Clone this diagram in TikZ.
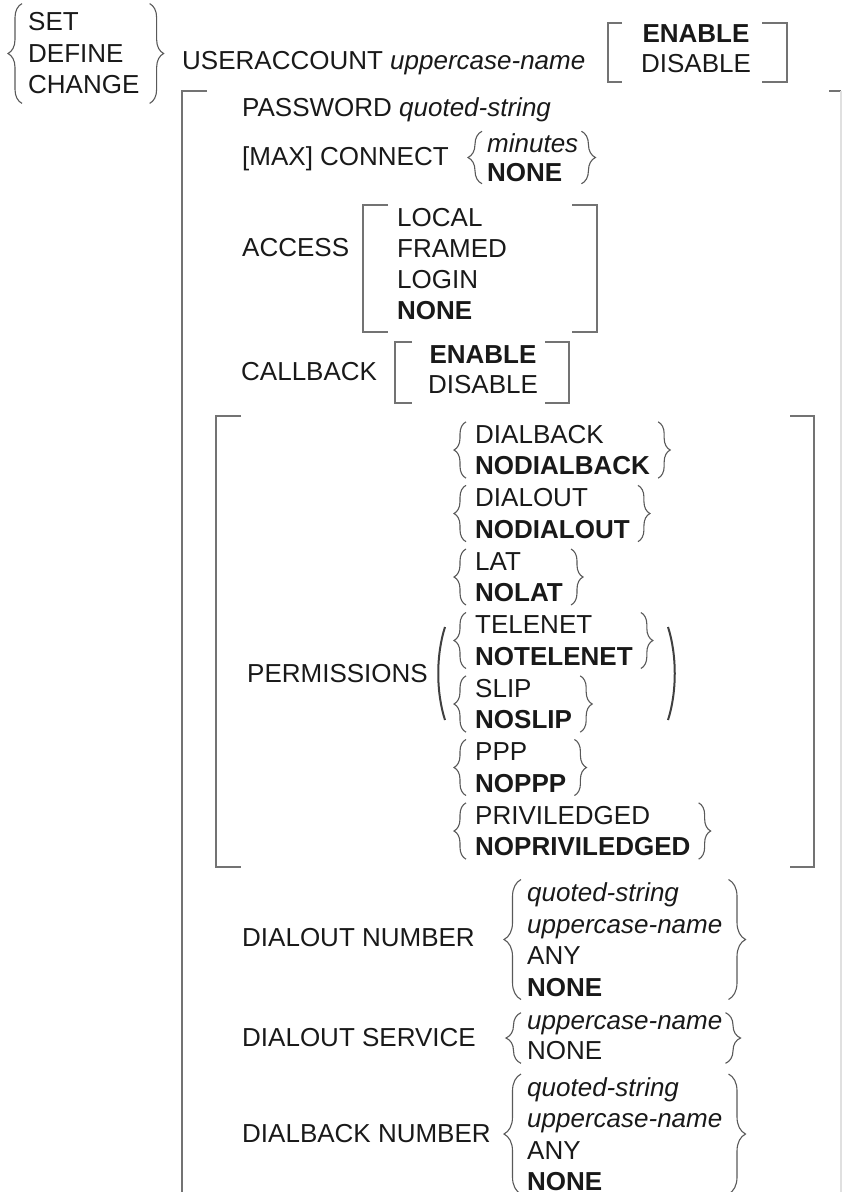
\documentclass[tikz,border=0pt]{standalone}
\usepackage{fontspec}
\setmainfont{Liberation Sans}
\usetikzlibrary{decorations.pathreplacing}

\tikzset{
  kw/.style={anchor=base west, inner sep=0pt, font=\fontsize{26}{31.5}\selectfont, text=black!90},
  opts/.style={align=left, anchor=west, inner xsep=0pt, inner ysep=3pt, font=\fontsize{26}{31.5}\selectfont, text=black!90},
  bkt/.style={line width=1.8pt, black!55},
  brc/.style={decorate, decoration={brace, amplitude=#1}, line width=1.1pt, black!65},
  brc/.default=12pt
}

\begin{document}
\begin{tikzpicture}[x=1pt, y=-1pt]
  \useasboundingbox (0,0) rectangle (844,1192);

  % SET / DEFINE / CHANGE
  \node[opts, inner ysep=9pt] (verb) at (28,53.5) {SET\\DEFINE\\CHANGE};
  \draw[brc=14pt] ([xshift=-6pt]verb.south west) -- ([xshift=-6pt]verb.north west);
  \draw[brc=14pt] ([xshift=10pt]verb.north east) -- ([xshift=10pt]verb.south east);

  % USERACCOUNT line
  \node[kw] (acct) at (182,69) {USERACCOUNT \textit{uppercase-name}};
  \node[opts, align=center, anchor=center] (acctst) at (696,49) {\textbf{ENABLE}\\[-1.5pt]DISABLE};
  \draw[bkt] (622,23) -- (608,23) -- (608,82) -- (622,82);
  \draw[bkt] (762,23) -- (787,23) -- (787,82) -- (762,82);

  % Outer bracket
  \draw[bkt] (207,91) -- (182,91) -- (182,1192);
  \draw[bkt] (829,91) -- (841,91);
  \draw[line width=1.2pt, black!12] (841,91) -- (841,1192);

  % PASSWORD
  \node[kw] (pwd) at (242,116) {PASSWORD \textit{quoted-string}};

  % [MAX] CONNECT
  \node[kw] (conn) at (242,165) {[MAX] CONNECT};
  \node[opts, inner ysep=2pt] (connv) at (487,157.5) {\textit{minutes}\\[-2.5pt]\textbf{NONE}};
  \draw[brc=14pt] ([xshift=-5pt]connv.south west) -- ([xshift=-5pt]connv.north west);
  \draw[brc=14pt] ([xshift=3pt]connv.north east) -- ([xshift=3pt]connv.south east);

  % ACCESS
  \node[kw] (acc) at (242,256) {ACCESS};
  \node[opts] (accv) at (397,264.5) {LOCAL\\[-0.5pt]FRAMED\\[-0.5pt]LOGIN\\[-0.5pt]\textbf{NONE}};
  \draw[bkt] (388,205) -- (363,205) -- (363,332) -- (388,332);
  \draw[bkt] (572,205) -- (597,205) -- (597,332) -- (572,332);

  % CALLBACK
  \node[kw] (cb) at (241,380) {CALLBACK};
  \node[opts, align=center, anchor=center] (cbv) at (483,370) {\textbf{ENABLE}\\[-1.5pt]DISABLE};
  \draw[bkt] (412,342) -- (395,342) -- (395,403) -- (412,403);
  \draw[bkt] (545,342) -- (569,342) -- (569,403) -- (545,403);

  % PERMISSIONS
  \draw[bkt] (241,416) -- (216,416) -- (216,867) -- (241,867);
  \draw[bkt] (790,416) -- (814,416) -- (814,867) -- (790,867);
  \node[kw] (perm) at (247,682) {PERMISSIONS};
  \draw[line width=2pt, black!75] (445,627) .. controls (436,655) and (436,692) .. (445,720);
  \draw[line width=2pt, black!75] (668,627) .. controls (677,655) and (677,692) .. (668,720);

  \node[opts] (p1) at (475,450) {DIALBACK\\\textbf{NODIALBACK}};
  \draw[brc] ([xshift=-9pt]p1.south west) -- ([xshift=-9pt]p1.north west);
  \draw[brc] ([xshift=8pt]p1.north east) -- ([xshift=8pt]p1.south east);

  \node[opts] (p2) at (475,513.5) {DIALOUT\\\textbf{NODIALOUT}};
  \draw[brc] ([xshift=-9pt]p2.south west) -- ([xshift=-9pt]p2.north west);
  \draw[brc] ([xshift=8pt]p2.north east) -- ([xshift=8pt]p2.south east);

  \node[opts] (p3) at (475,577) {LAT\\\textbf{NOLAT}};
  \draw[brc] ([xshift=-9pt]p3.south west) -- ([xshift=-9pt]p3.north west);
  \draw[brc] ([xshift=8pt]p3.north east) -- ([xshift=8pt]p3.south east);

  \node[opts] (p4) at (475,640.5) {TELENET\\\textbf{NOTELENET}};
  \draw[brc] ([xshift=-9pt]p4.south west) -- ([xshift=-9pt]p4.north west);
  \draw[brc] ([xshift=8pt]p4.north east) -- ([xshift=8pt]p4.south east);

  \node[opts] (p5) at (475,704) {SLIP\\\textbf{NOSLIP}};
  \draw[brc] ([xshift=-9pt]p5.south west) -- ([xshift=-9pt]p5.north west);
  \draw[brc] ([xshift=8pt]p5.north east) -- ([xshift=8pt]p5.south east);

  \node[opts] (p6) at (475,767.5) {PPP\\\textbf{NOPPP}};
  \draw[brc] ([xshift=-9pt]p6.south west) -- ([xshift=-9pt]p6.north west);
  \draw[brc] ([xshift=8pt]p6.north east) -- ([xshift=8pt]p6.south east);

  \node[opts] (p7) at (475,831) {PRIVILEDGED\\\textbf{NOPRIVILEDGED}};
  \draw[brc] ([xshift=-9pt]p7.south west) -- ([xshift=-9pt]p7.north west);
  \draw[brc] ([xshift=8pt]p7.north east) -- ([xshift=8pt]p7.south east);

  % DIALOUT NUMBER
  \node[kw] (donum) at (242,946) {DIALOUT NUMBER};
  \node[opts] (donumv) at (527,939.5) {\textit{quoted-string}\\\textit{uppercase-name}\\ANY\\\textbf{NONE}};
  \draw[brc=17pt] ([xshift=-6pt]donumv.south west) -- ([xshift=-6pt]donumv.north west);
  \draw[brc=17pt] ([xshift=6pt]donumv.north east) -- ([xshift=6pt]donumv.south east);

  % DIALOUT SERVICE
  \node[kw] (dosrv) at (242,1046) {DIALOUT SERVICE};
  \node[opts] (dosrvv) at (527,1038) {\textit{uppercase-name}\\[-1.5pt]NONE};
  \draw[brc=15pt] ([xshift=-6pt]dosrvv.south west) -- ([xshift=-6pt]dosrvv.north west);
  \draw[brc=15pt] ([xshift=3pt]dosrvv.north east) -- ([xshift=3pt]dosrvv.south east);

  % DIALBACK NUMBER
  \node[kw] (dbnum) at (242,1142) {DIALBACK NUMBER};
  \node[opts] (dbnumv) at (527,1134) {\textit{quoted-string}\\\textit{uppercase-name}\\ANY\\\textbf{NONE}};
  \draw[brc=17pt] ([xshift=-6pt]dbnumv.south west) -- ([xshift=-6pt]dbnumv.north west);
  \draw[brc=17pt] ([xshift=6pt]dbnumv.north east) -- ([xshift=6pt]dbnumv.south east);
\end{tikzpicture}
\end{document}
